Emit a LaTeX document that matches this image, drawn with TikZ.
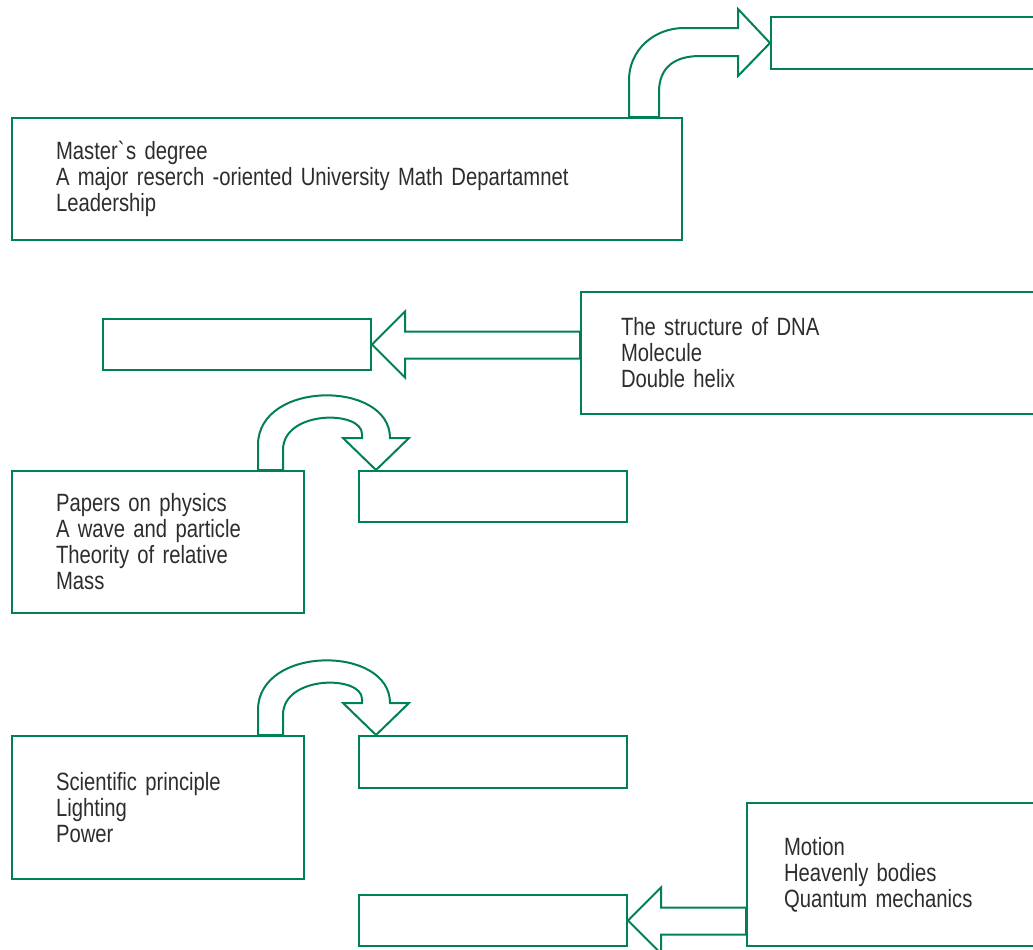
\documentclass[tikz,border=0pt]{standalone}
\usepackage{fontspec}
\setmainfont{Liberation Sans}[FakeStretch=0.81]
\usepackage{xcolor}
\usetikzlibrary{calc}
\definecolor{boxgreen}{RGB}{0,128,84}
\definecolor{notegray}{RGB}{45,45,45}
\tikzset{
    infobox/.style={
        draw=boxgreen,
        line width=1pt,
        rectangle,
        anchor=north west,
        align=left,
        text=notegray,
        inner ysep=0pt,
        font=\fontsize{12.5}{13}\selectfont,
    },
    blankbox/.style={
        draw=boxgreen,
        line width=1pt,
        rectangle,
        anchor=north west,
        inner sep=0pt,
        minimum width=134pt,
        minimum height=25.5pt,
    },
    blockarrow/.style={
        draw=boxgreen,
        line width=1pt,
        fill=white,
        line join=miter,
    },
}

\begin{document}
\begin{tikzpicture}[x=0.5pt, y=-0.5pt]
    \useasboundingbox (0,0) rectangle (1033,949);

    % Boxes with notes
    \node[infobox, minimum width=335pt, minimum height=61pt, inner xsep=22pt, text width=291pt]
      (master) at (11,117) {Master\textasciigrave s degree\\A major reserch -oriented University Math Departamnet\\Leadership};
    \node[infobox, minimum width=235pt, minimum height=61pt, inner xsep=20pt, text width=195pt]
      (dna) at (580,291) {The structure of DNA\\Molecule\\Double helix};
    \node[infobox, minimum width=146pt, minimum height=71pt, inner xsep=22pt, text width=102pt]
      (physics) at (11,470) {Papers on physics\\A wave and particle\\Theority of relative\\Mass};
    \node[infobox, minimum width=146pt, minimum height=71.5pt, inner xsep=22pt, text width=102pt]
      (science) at (11,735) {Scientific principle\\Lighting\\Power};
    \node[infobox, minimum width=150pt, minimum height=71.5pt, inner xsep=18.5pt, text width=113pt]
      (motion) at (746,802) {Motion\\Heavenly bodies\\Quantum mechanics};

    % Empty boxes
    \node[blankbox, minimum width=140pt, minimum height=26pt] (blank1) at (770,16) {};
    \node[blankbox] (blank2) at (102,318) {};
    \node[blankbox] (blank3) at (358,470) {};
    \node[blankbox, minimum height=26pt] (blank4) at (358,735) {};
    \node[blankbox] (blank5) at (358,894) {};

    % Bent arrow, up and to the right
    \coordinate (a1) at ($(master.north west)+(618,0)$);
    \draw[blockarrow] (a1) -- ++(0,-37)
      .. controls +(0,-30) and +(-30,0) .. ($(blank1.west)+(-86,-15)$)
      -- ($(blank1.west)+(-32,-15)$) -- ($(blank1.west)+(-32,-34)$)
      -- (blank1.west)
      -- ($(blank1.west)+(-32,33)$) -- ($(blank1.west)+(-32,13)$)
      -- ($(blank1.west)+(-70,13)$)
      .. controls +(-25,0) and +(0,-25) .. ($(a1)+(30,-25)$)
      -- ($(a1)+(30,0)$) -- cycle;

    % Straight arrow to the left
    \coordinate (b1) at ($(blank2.east)+(33,-13)$);
    \draw[blockarrow] (blank2.east) -- ($(blank2.east)+(33,-33)$) -- (b1)
      -- (dna.west |- b1) -- ($(dna.west |- b1)+(0,27)$)
      -- ($(b1)+(0,27)$) -- ($(blank2.east)+(33,33)$) -- cycle;

    % U-turn arrow, physics
    \coordinate (c1) at ($(physics.north west)+(247,0)$);
    \coordinate (c2) at ($(blank3.north west)+(18,0)$);
    \draw[blockarrow] (c1) -- ++(0,-25)
      .. controls +(0,-65) and +(0,-58) .. ($(c2)+(14,-32)$)
      -- ($(c2)+(33,-32)$) -- (c2) -- ($(c2)+(-33,-32)$)
      -- ($(c2)+(-14,-32)$) -- ($(c2)+(-14,-36)$)
      .. controls +(0,-24) and +(0,-40) .. ($(c1)+(25,-20)$)
      -- ($(c1)+(25,0)$) -- cycle;

    % U-turn arrow, principle
    \coordinate (d1) at ($(science.north west)+(247,0)$);
    \coordinate (d2) at ($(blank4.north west)+(18,0)$);
    \draw[blockarrow] (d1) -- ++(0,-25)
      .. controls +(0,-65) and +(0,-58) .. ($(d2)+(14,-32)$)
      -- ($(d2)+(33,-32)$) -- (d2) -- ($(d2)+(-33,-32)$)
      -- ($(d2)+(-14,-32)$) -- ($(d2)+(-14,-36)$)
      .. controls +(0,-24) and +(0,-40) .. ($(d1)+(25,-20)$)
      -- ($(d1)+(25,0)$) -- cycle;

    % Straight arrow to the left, bottom
    \coordinate (e1) at ($(blank5.east)+(33,-13)$);
    \draw[blockarrow] (blank5.east) -- ($(blank5.east)+(33,-33)$) -- (e1)
      -- (motion.west |- e1) -- ($(motion.west |- e1)+(0,27)$)
      -- ($(e1)+(0,27)$) -- ($(blank5.east)+(33,33)$) -- cycle;
\end{tikzpicture}
\end{document}
